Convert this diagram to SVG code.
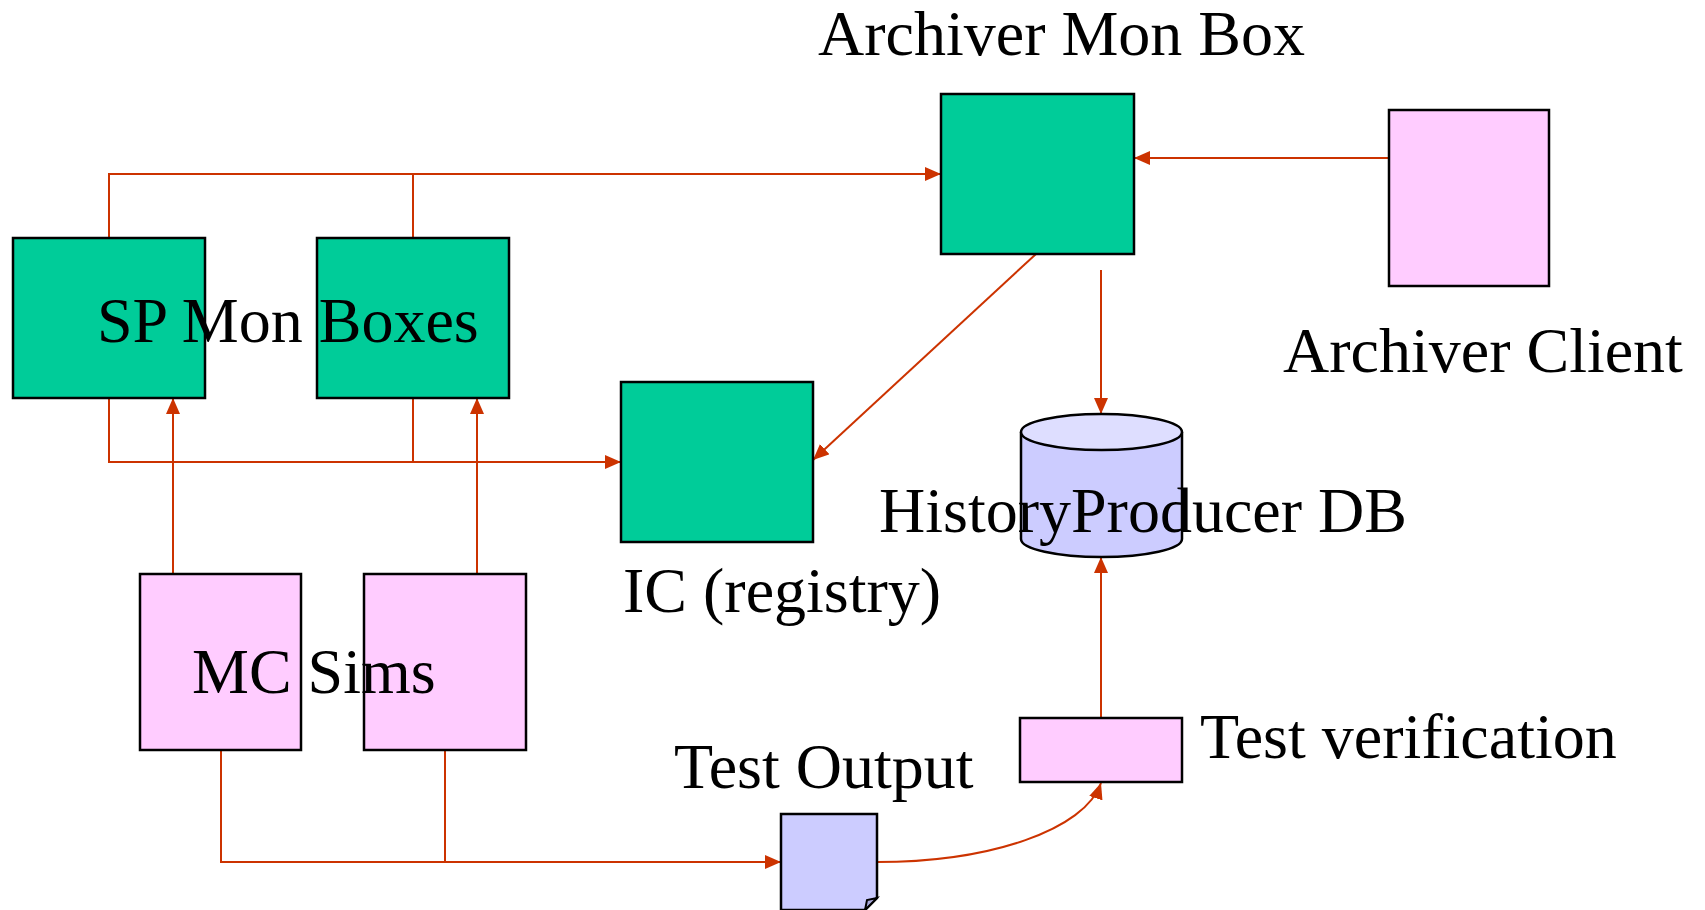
<svg xmlns="http://www.w3.org/2000/svg" width="1705" height="910" viewBox="0 0 1705 910">
<style>
.lbl{font-family:"Liberation Serif","Times New Roman",serif;font-size:64px;fill:#000}
.g{fill:#00CC99;stroke:#000;stroke-width:2.5}
.p{fill:#FFCCFF;stroke:#000;stroke-width:2.5}
.b{fill:#CCCCFF;stroke:#000;stroke-width:2.5}
.c{fill:none;stroke:#CC3300;stroke-width:2}
</style>
<defs>
<marker id="ah" viewBox="0 0 16 14" refX="16" refY="7" markerWidth="16" markerHeight="14" markerUnits="userSpaceOnUse" orient="auto">
<path d="M0,0 L16,7 L0,14 Z" fill="#CC3300"/>
</marker>
</defs>
<rect width="1705" height="910" fill="#fff"/>
<g id="connectors">
<path class="c" d="M109,238 V174 H941" marker-end="url(#ah)"/>
<path class="c" d="M413,238 V174"/>
<path class="c" d="M1389,158 H1134" marker-end="url(#ah)"/>
<path class="c" d="M109,398 V462 H621" marker-end="url(#ah)"/>
<path class="c" d="M413,398 V462"/>
<path class="c" d="M1036,254 L813,460" marker-end="url(#ah)"/>
<path class="c" d="M1101,270 V414" marker-end="url(#ah)"/>
<path class="c" d="M173,574 V398" marker-end="url(#ah)"/>
<path class="c" d="M477,574 V398" marker-end="url(#ah)"/>
<path class="c" d="M221,750 V862 H781" marker-end="url(#ah)"/>
<path class="c" d="M445,750 V862"/>
<path class="c" d="M877,862 C990,862 1085,830 1101,783" marker-end="url(#ah)"/>
<path class="c" d="M1101,718 V557" marker-end="url(#ah)"/>
</g>
<g id="sp-mon-boxes">
<rect class="g" x="13" y="238" width="192" height="160"/>
<rect class="g" x="317" y="238" width="192" height="160"/>
<text class="lbl" x="97" y="342">SP Mon Boxes</text>
</g>
<g id="archiver-mon-box">
<rect class="g" x="941" y="94" width="193" height="160"/>
<text class="lbl" x="818" y="55">Archiver Mon Box</text>
</g>
<g id="archiver-client">
<rect class="p" x="1389" y="110" width="160" height="176"/>
<text class="lbl" x="1283" y="372">Archiver Client</text>
</g>
<g id="ic-registry">
<rect class="g" x="621" y="382" width="192" height="160"/>
<text class="lbl" x="623" y="612">IC (registry)</text>
</g>
<g id="history-db">
<path class="b" d="M1021,432 V539 A80.5,18 0 0 0 1182,539 V432"/>
<ellipse cx="1101.5" cy="432" rx="80.5" ry="18" fill="#DEDEFF" stroke="#000" stroke-width="2.5"/>
<text class="lbl" x="879" y="532">HistoryProducer DB</text>
</g>
<g id="mc-sims">
<rect class="p" x="140" y="574" width="161" height="176"/>
<rect class="p" x="364" y="574" width="162" height="176"/>
<text class="lbl" x="192" y="693">MC Sims</text>
</g>
<g id="test-output">
<path class="b" d="M781,814 H877 V898 L865,910 H781 Z"/>
<path d="M877,898 L867,900 L865,910 Z" fill="#AAAADD" stroke="#000" stroke-width="2"/>
<text class="lbl" x="674" y="788">Test Output</text>
</g>
<g id="test-verification">
<rect class="p" x="1020" y="718" width="162" height="64"/>
<text class="lbl" x="1200" y="758">Test verification</text>
</g>
</svg>
